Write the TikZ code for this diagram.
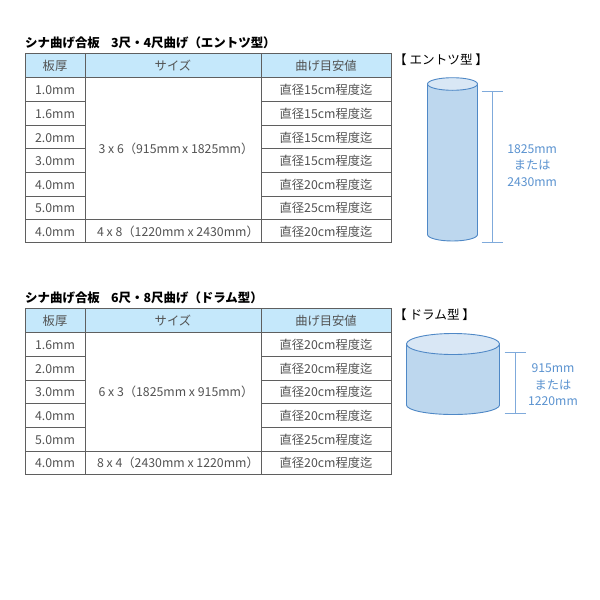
\documentclass[tikz,border=0pt]{standalone}
\usepackage{fontspec}
\setmainfont{Noto Sans CJK JP}
\usetikzlibrary{positioning}
\definecolor{headblue}{HTML}{C5E8FB}
\definecolor{cellgrey}{HTML}{5F5F5F}
\definecolor{bodyblue}{HTML}{BDD7EE}
\definecolor{lidblue}{HTML}{D9E7F5}
\definecolor{edgeblue}{HTML}{4F88C6}
\definecolor{dimblue}{HTML}{7FAADB}
\definecolor{dimtext}{HTML}{5B93D0}
\tikzset{
  cell/.style={rectangle,draw=cellgrey,line width=.8pt,inner sep=0pt,text height=10.5pt,text depth=.5pt,text=black!68,font=\fontsize{12.3}{13}\selectfont},
  head/.style={cell,fill=headblue},
  title/.style={anchor=west,inner sep=0pt,font=\fontsize{12.45}{14}\selectfont\bfseries},
  tag/.style={anchor=west,inner sep=0pt,font=\fontsize{12.6}{14}\selectfont},
  dim label/.style={align=center,inner sep=0pt,text=dimtext,font=\fontsize{12.2}{16.5}\selectfont},
  dim line/.style={draw=dimblue,line width=.9pt},
  tube/.style={draw=edgeblue,line width=.9pt}
}
\begin{document}
\begin{tikzpicture}[x=1pt,y=-1pt]
    \useasboundingbox[fill=white] (0,0) rectangle (600,600);

    % upper table
    \node[title] (title1) at (25,43) {シナ曲げ合板\hspace{.9em}3尺・4尺曲げ（エントツ型）};
    \node[head,minimum width=60pt,minimum height=24.5pt] (h11) at (55,65.5) {板厚};
    \node[head,minimum width=176pt,minimum height=24.5pt] (h12) at (173,65.5) {サイズ};
    \node[head,minimum width=130pt,minimum height=24.5pt] (h13) at (326,65.5) {曲げ目安値};
    \foreach \n/\y/\h/\t/\d in {1/89.5/24/1.0mm/15,2/113.25/23.5/1.6mm/15,3/137/23.5/2.0mm/15,4/160.5/23.5/3.0mm/15,5/184.25/24/4.0mm/20,6/207.75/23.5/5.0mm/25,7/231/23/4.0mm/20}{
      \node[cell,minimum width=60pt,minimum height=\h pt] (a\n) at (55,\y) {\t};
      \node[cell,minimum width=130pt,minimum height=\h pt] (c\n) at (326,\y) {直径\d cm程度迄};
    }
    \node[cell,minimum width=176pt,minimum height=142pt] (b1) at (173,148.5) {\hspace{6pt}3 x 6（915mm x 1825mm）};
    \node[cell,minimum width=176pt,minimum height=23pt] (b2) at (173,231) {\hspace{10pt}4 x 8（1220mm x 2430mm）};

    % lower table
    \node[title] (title2) at (25,298) {シナ曲げ合板\hspace{.9em}6尺・8尺曲げ（ドラム型）};
    \node[head,minimum width=60pt,minimum height=24.5pt] (h21) at (55,320.5) {板厚};
    \node[head,minimum width=176pt,minimum height=24.5pt] (h22) at (173,320.5) {サイズ};
    \node[head,minimum width=130pt,minimum height=24.5pt] (h23) at (326,320.5) {曲げ目安値};
    \foreach \n/\y/\h/\t/\d in {1/344.5/24/1.6mm/20,2/368.25/23.5/2.0mm/20,3/391.5/23/3.0mm/20,4/415/24/4.0mm/20,5/439/24/5.0mm/25,6/462.5/23/4.0mm/20}{
      \node[cell,minimum width=60pt,minimum height=\h pt] (d\n) at (55,\y) {\t};
      \node[cell,minimum width=130pt,minimum height=\h pt] (f\n) at (326,\y) {直径\d cm程度迄};
    }
    \node[cell,minimum width=176pt,minimum height=118.5pt] (e1) at (173,391.75) {\hspace{6pt}6 x 3（1825mm x 915mm）};
    \node[cell,minimum width=176pt,minimum height=23pt] (e2) at (173,462.5) {\hspace{10pt}8 x 4（2430mm x 1220mm）};

    % tall cylinder
    \node[tag] (tag1) at (394,60) {【 エントツ型 】};
    \path[tube,fill=bodyblue] (427.5,84) -- (427.5,234.5) arc[start angle=180,end angle=0,x radius=25,y radius=6.5] -- (477.5,84) -- cycle;
    \path[tube,fill=lidblue] (452.5,84) ellipse[x radius=25,y radius=6.3];
    \coordinate (t1a) at (481.5,91.7);
    \coordinate (t1b) at (502.5,91.7);
    \coordinate (t1c) at (481.5,242.3);
    \coordinate (t1d) at (502.5,242.3);
    \coordinate[right = 10.5pt of t1a] (m1a);
    \coordinate[right = 10.5pt of t1c] (m1c);
    \draw[dim line] (t1a) -- (t1b);
    \draw[dim line] (t1c) -- (t1d);
    \draw[dim line] (m1a) -- (m1c);
    \node[dim label] (len1) at (532.2,165.5) {1825mm\\または\\2430mm};

    % drum
    \node[tag] (tag2) at (394,315) {【 ドラム型 】};
    \path[tube,fill=bodyblue] (406.5,344) -- (406.5,405) arc[start angle=180,end angle=0,x radius=46.5,y radius=9.5] -- (499.5,344) -- cycle;
    \path[tube,fill=lidblue] (453,344) ellipse[x radius=46.5,y radius=10.5];
    \coordinate (t2a) at (504.5,352.3);
    \coordinate (t2b) at (525.5,352.3);
    \coordinate (t2c) at (504.5,413.3);
    \coordinate (t2d) at (525.5,413.3);
    \coordinate[right = 10.5pt of t2a] (m2a);
    \coordinate[right = 10.5pt of t2c] (m2c);
    \draw[dim line] (t2a) -- (t2b);
    \draw[dim line] (t2c) -- (t2d);
    \draw[dim line] (m2a) -- (m2c);
    \node[dim label] (len2) at (553,385) {915mm\\または\\1220mm};
\end{tikzpicture}
\end{document}
